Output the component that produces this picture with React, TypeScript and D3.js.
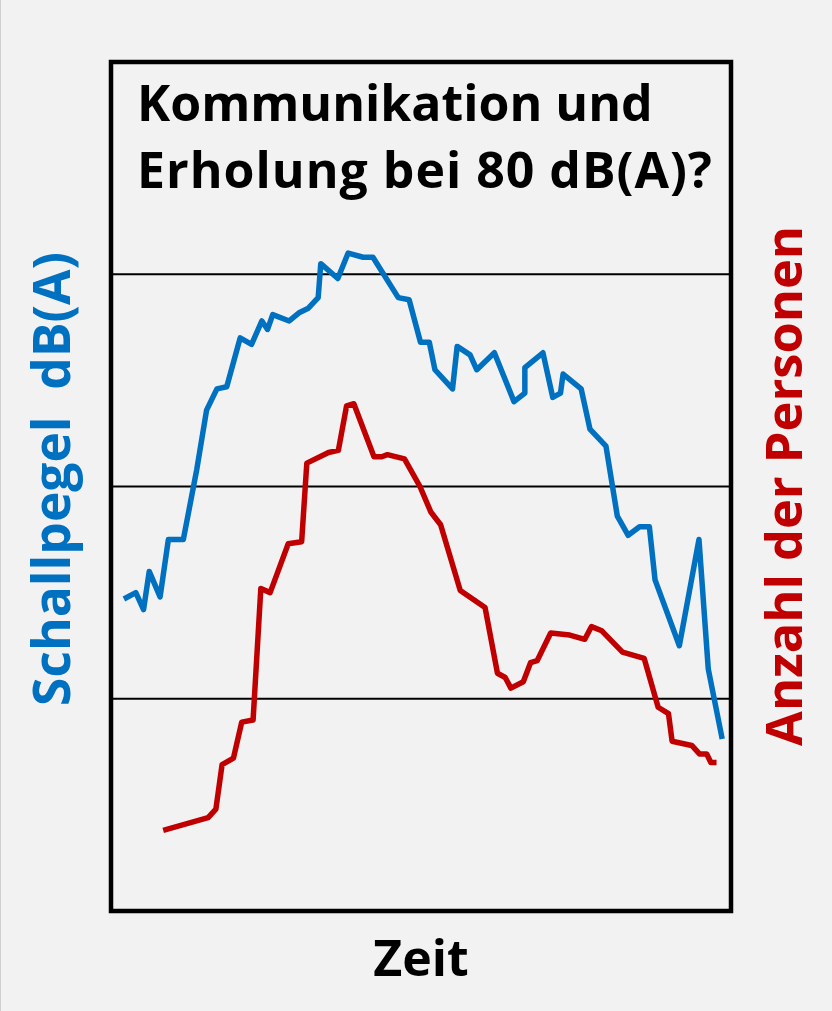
import * as d3 from "d3";

// Schallpegel (dB(A)) over time (minutes)
const soundTime = [2.5, 4.8, 6.3, 7.4, 9.5, 11.1, 14.0, 16.6, 18.5, 20.5, 22.4, 25.0, 27.2, 29.2, 30.3, 31.3, 34.5, 36.5, 38.2, 40.1, 40.6, 43.9, 45.9, 48.8, 50.7, 55.6, 57.7, 59.9, 61.6, 62.7, 66.1, 67.0, 69.5, 70.8, 74.2, 78.0, 80.1, 80.1, 83.6, 85.5, 87.0, 87.5, 91.0, 92.7, 95.8, 98.0, 100.1, 102.3, 104.2, 105.3, 110.0, 113.8, 115.6, 118.3];
const soundLevel = [64.7, 65.0, 64.2, 66.0, 64.8, 67.5, 67.5, 70.8, 73.6, 74.6, 74.7, 77.0, 76.7, 77.8, 77.4, 78.1, 77.8, 78.2, 78.4, 78.9, 80.5, 79.8, 81.0, 80.8, 80.8, 78.9, 78.8, 76.8, 76.8, 75.5, 74.6, 76.6, 76.2, 75.5, 76.3, 74.0, 74.4, 75.6, 76.3, 74.2, 74.4, 75.3, 74.6, 72.7, 71.9, 68.6, 67.7, 68.1, 68.1, 65.6, 62.5, 67.5, 61.4, 58.1];

// Anzahl der Personen over time (minutes)
const peopleTime = [10.1, 18.8, 20.3, 21.5, 23.7, 25.3, 27.5, 29.0, 30.8, 34.3, 36.9, 37.9, 42.1, 44.0, 45.6, 47.0, 50.9, 52.4, 53.5, 56.8, 59.8, 61.9, 63.8, 67.6, 72.4, 74.8, 76.3, 77.4, 79.8, 81.2, 82.5, 85.1, 88.8, 91.7, 93.0, 95.0, 99.0, 103.2, 105.9, 107.9, 108.6, 112.4, 113.9, 115.3, 116.1, 117.2];
const peopleCount = [38, 44, 48, 69, 72, 89, 90, 152, 150, 173, 174, 211, 216, 217, 238, 239, 214, 214, 215, 213, 200, 188, 182, 151, 143, 112, 110, 105, 108, 117, 118, 131, 130, 128, 134, 132, 122, 119, 96, 93, 80, 78, 74, 74, 70, 70];

const gridLevels = [60, 70, 80];
const titleLines = ["Kommunikation und", "Erholung bei 80 dB(A)?"];

const W = 832;
const H = 1011;
const plot = { left: 111, right: 731, top: 62, bottom: 911 };
const font = "'Open Sans', 'Noto Sans', sans-serif";
const blue = "#0070c0";
const red = "#c00000";

export default function App() {
  const x = d3.scaleLinear().domain([0, 120]).range([plot.left, plot.right]);
  const yDb = d3.scaleLinear().domain([50, 90]).range([plot.bottom, plot.top]);
  const yPeople = d3.scaleLinear().domain([0, 400]).range([plot.bottom, plot.top]);

  const soundLine = d3
    .line<number>()
    .x((_, i) => x(soundTime[i]))
    .y((d) => yDb(d));
  const peopleLine = d3
    .line<number>()
    .x((_, i) => x(peopleTime[i]))
    .y((d) => yPeople(d));

  return (
    <svg
      width={W}
      height={H}
      style={{ position: "absolute", left: 0, top: 0, display: "block" }}
      fontFamily={font}
      fontWeight="bold"
    >
      <rect x={0} y={0} width={W} height={H} fill="#f2f2f2" />
      <line x1={0.5} y1={0} x2={0.5} y2={H} stroke="#d0d0d0" />

      {gridLevels.map((g) => (
        <line
          key={g}
          x1={plot.left}
          x2={plot.right}
          y1={yDb(g)}
          y2={yDb(g)}
          stroke="#000"
          strokeWidth={2}
        />
      ))}

      <path d={soundLine(soundLevel) ?? ""} fill="none" stroke={blue} strokeWidth={5.5} strokeLinejoin="round" />
      <path d={peopleLine(peopleCount) ?? ""} fill="none" stroke={red} strokeWidth={5.5} strokeLinejoin="round" />

      <rect
        x={plot.left}
        y={plot.top}
        width={plot.right - plot.left}
        height={plot.bottom - plot.top}
        fill="none"
        stroke="#000"
        strokeWidth={4.5}
      />

      {titleLines.map((t, i) => (
        <text
          key={t}
          x={137}
          y={121 + i * 67}
          fontSize={50}
          fill="#000"
          letterSpacing={i === 1 ? 1 : 0}
        >
          {t}
        </text>
      ))}

      <text
        transform={`translate(70, 479) rotate(-90)`}
        textAnchor="middle"
        fontSize={51.5}
        fill={blue}
        style={{ whiteSpace: "pre" }}
      >
        {"Schallpegel  dB(A)"}
      </text>
      <text
        transform={`translate(802, 486) rotate(-90)`}
        textAnchor="middle"
        fontSize={50.5}
        fill={red}
      >
        Anzahl der Personen
      </text>
      <text x={421} y={976} textAnchor="middle" fontSize={50} fill="#000">
        Zeit
      </text>
    </svg>
  );
}
